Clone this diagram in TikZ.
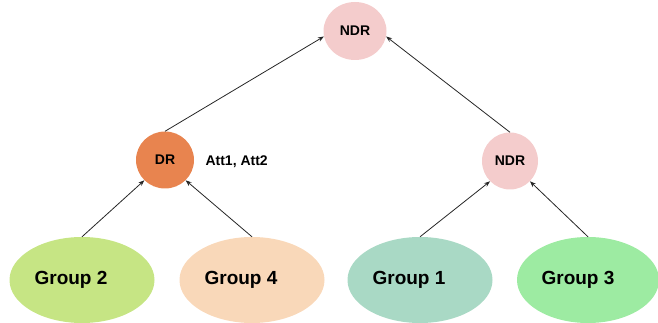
\documentclass[tikz,border=0pt]{standalone}
\usepackage{fontspec}
\setmainfont{Liberation Sans}
\usetikzlibrary{shapes.geometric,arrows.meta}
\definecolor{ndrpink}{HTML}{F4CCCC}
\definecolor{drorange}{HTML}{E8844F}
\definecolor{gtwo}{HTML}{C6E584}
\definecolor{gfour}{HTML}{F9D8B9}
\definecolor{gone}{HTML}{A9D9C5}
\definecolor{gthree}{HTML}{9DEBA2}
\tikzset{
  blob/.style={ellipse, inner sep=0pt, font=\bfseries\fontsize{14}{16}\selectfont},
  small/.style={blob, minimum width=58pt, minimum height=57pt},
  group/.style={ellipse, inner sep=0pt, minimum width=145pt, minimum height=86pt},
  grouptext/.style={xshift=-11pt, font=\bfseries\fontsize{19}{22}\selectfont},
  link/.style={draw=black!85, line width=0.8pt, -{Stealth[length=6pt,width=4.5pt]}}
}
\begin{document}
\begin{tikzpicture}[x=1pt,y=-1pt]
  \useasboundingbox (0,0) rectangle (658,323);
  % decision nodes
  \node[small, fill=ndrpink, minimum width=63pt, minimum height=58pt] (top) at (355,31) {NDR};
  \node[small, fill=drorange] (dr) at (165,160) {DR};
  \node[small, fill=ndrpink, minimum width=56pt] (ndr) at (510,161) {NDR};
  \node[anchor=west, font=\bfseries\fontsize{14}{16}\selectfont] (att) at (202,162) {Att1, Att2};
  % groups, with their names set a little left of centre
  \node[group, fill=gtwo, label={[grouptext]center:Group 2}] (g2) at (82,280) {};
  \node[group, fill=gfour, label={[grouptext]center:Group 4}] (g4) at (252,280) {};
  \node[group, fill=gone, label={[grouptext]center:Group 1}] (g1) at (420,280) {};
  \node[group, fill=gthree, minimum width=142pt, label={[grouptext, xshift=1pt]center:Group 3}] (g3) at (588,280) {};
  % connectors
  \draw[link] (g2.north) -- (dr.south west);
  \draw[link] (g4.north) -- (dr.south east);
  \draw[link] (g1.north) -- (ndr.south west);
  \draw[link] (g3.north) -- (ndr.south east);
  \draw[link] (dr.north) -- (top.190);
  \draw[link] (ndr.north) -- (top.-10);
\end{tikzpicture}
\end{document}
